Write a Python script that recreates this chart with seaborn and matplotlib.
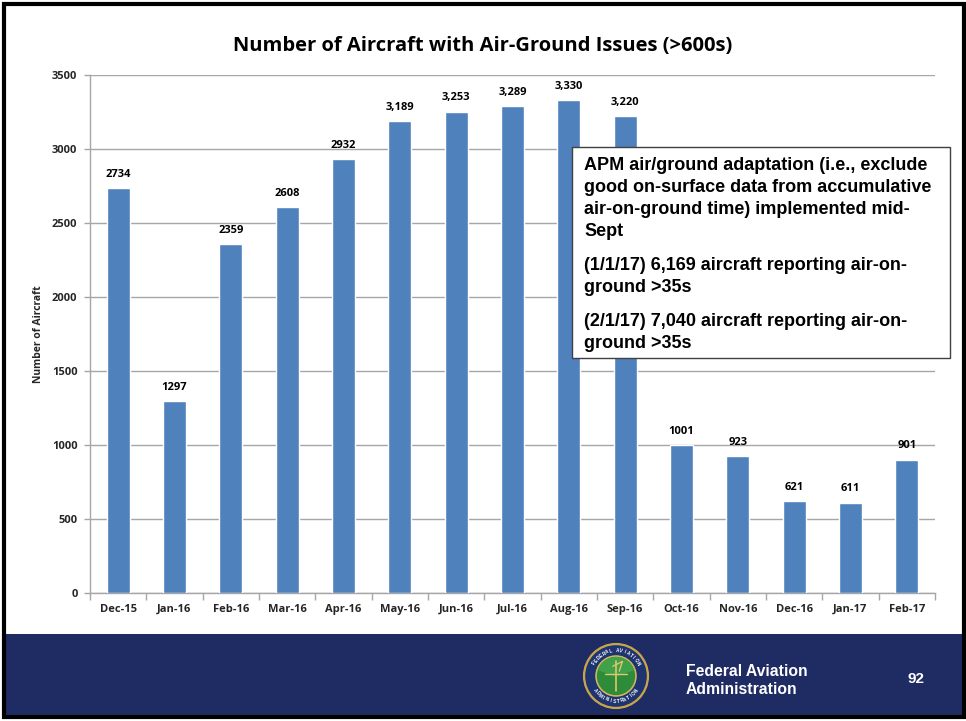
import numpy as np
import pandas as pd
import matplotlib
matplotlib.use("Agg")
import matplotlib.pyplot as plt
from matplotlib.patches import Rectangle, Circle, Wedge
import seaborn as sns

months = ["Dec-15", "Jan-16", "Feb-16", "Mar-16", "Apr-16", "May-16", "Jun-16",
          "Jul-16", "Aug-16", "Sep-16", "Oct-16", "Nov-16", "Dec-16", "Jan-17", "Feb-17"]
aircraft = [2734, 1297, 2359, 2608, 2932, 3189, 3253, 3289, 3330, 3220,
            1001, 923, 621, 611, 901]
# labels for May..Sep are written with a thousands separator
use_comma = [False, False, False, False, False, True, True, True, True, True,
             False, False, False, False, False]
y_ticks = [0, 500, 1000, 1500, 2000, 2500, 3000, 3500]

title = "Number of Aircraft with Air-Ground Issues (>600s)"
y_label = "Number of Aircraft"
note_lines = [
    ["APM air/ground adaptation (i.e., exclude",
     "good on-surface data from accumulative",
     "air-on-ground time) implemented mid-",
     "Sept"],
    ["(1/1/17) 6,169 aircraft reporting air-on-",
     "ground >35s"],
    ["(2/1/17) 7,040 aircraft reporting air-on-",
     "ground >35s"],
]
agency_lines = ["Federal Aviation", "Administration"]
page_no = "92"

BAR = "#4F81BD"
NAVY = "#1F2C64"
GRID = "#A6A6A6"
ARIAL = ["Liberation Sans", "DejaVu Sans"]

sns.set_theme(style="white")
plt.rcParams["font.family"] = ["Open Sans", "DejaVu Sans"]

W, H = 966, 721
fig = plt.figure(figsize=(W / 100, H / 100), dpi=100)
fig.patch.set_facecolor("white")


def fx(px):
    return px / W


def fy(py):
    return 1 - py / H


# chart area
ax = fig.add_axes([fx(90), fy(593), fx(935) - fx(90), fy(75) - fy(593)])
df = pd.DataFrame({"month": months, "count": aircraft})
sns.barplot(data=df, x="month", y="count", color=BAR, saturation=1,
            width=0.41, ax=ax, zorder=3)
ax.set_xlim(-0.5, len(months) - 0.5)
ax.set_ylim(0, 3500)
ax.set_yticks(y_ticks)
ax.set_yticklabels([str(t) for t in y_ticks], fontsize=8, fontweight="bold")
ax.set_xticks(range(len(months)))
ax.set_xticklabels(months, fontsize=8, fontweight="bold")
ax.set_xticks(np.arange(-0.5, len(months), 1.0), minor=True)
ax.tick_params(axis="x", which="major", length=0, pad=8)
ax.tick_params(axis="x", which="minor", length=5, width=1, color=GRID,
               direction="out", bottom=True)
ax.tick_params(axis="y", length=4, width=1, color=GRID, direction="out",
               left=True, pad=5)
ax.set_xlabel("")
ax.set_ylabel(y_label, fontsize=7.5, fontweight="bold", labelpad=6)
ax.yaxis.grid(True, color=GRID, linewidth=1)
ax.set_axisbelow(True)
for s in ["top", "right"]:
    ax.spines[s].set_visible(False)
for s in ["left", "bottom"]:
    ax.spines[s].set_color(GRID)
    ax.spines[s].set_linewidth(1)

for i, (v, c) in enumerate(zip(aircraft, use_comma)):
    lab = f"{v:,}" if c else str(v)
    ax.annotate(lab, (i, v), xytext=(0, 6), textcoords="offset points",
                ha="center", va="bottom", fontsize=8, fontweight="bold",
                color="black", zorder=4)

fig.text(0.5, fy(46), title, ha="center", va="center", fontsize=14.5,
         fontweight="bold", color="black")

# annotation box
fig.patches.append(Rectangle((fx(572), fy(358)), fx(950) - fx(572),
                             fy(147) - fy(358), transform=fig.transFigure,
                             facecolor="white", edgecolor="#404040",
                             linewidth=1.0, zorder=10))
y = 165
for p, para in enumerate(note_lines):
    if p > 0:
        y += 12
    for line in para:
        fig.text(fx(584), fy(y), line, ha="left", va="center", fontsize=13,
                 fontweight="bold", family=ARIAL, color="black", zorder=11)
        y += 22

# footer band
fig.patches.append(Rectangle((fx(5), fy(715)), fx(963) - fx(5),
                             fy(634) - fy(715), transform=fig.transFigure,
                             facecolor=NAVY, edgecolor="none", zorder=1))
for k, line in enumerate(agency_lines):
    fig.text(fx(686), fy(672 + 17 * k), line, ha="left", va="center",
             fontsize=11.3, fontweight="bold", color="white", family=ARIAL,
             zorder=5)
fig.text(fx(916), fy(679), page_no, ha="center", va="center", fontsize=11,
         fontweight="bold", color="white", family=ARIAL, zorder=5)

# seal
lax = fig.add_axes([fx(582), fy(710), fx(650) - fx(582), fy(642) - fy(710)])
lax.set_zorder(6)
lax.patch.set_alpha(0)
lax.set_xlim(-1.05, 1.05)
lax.set_ylim(-1.05, 1.05)
lax.set_aspect("equal")
lax.axis("off")
lax.add_patch(Circle((0, 0), 1.0, color="#C9A64A"))
lax.add_patch(Circle((0, 0), 0.93, color="#1E3470"))
lax.add_patch(Circle((0, 0), 0.62, color="#D7B65A"))
lax.add_patch(Circle((0, 0), 0.57, color="#2E8B3A"))
lax.add_patch(Wedge((0, 0), 0.57, 20, 160, width=0.57, color="#3FA24A"))
lax.plot([0, 0], [-0.45, 0.45], color="#E2C46A", lw=1.2)
lax.plot([-0.35, 0.35], [0.05, 0.05], color="#E2C46A", lw=1.0)
lax.plot([-0.1, 0.2, 0.1], [0.3, 0.45, 0.15], color="#E2C46A", lw=1.0)


def ring_text(txt, a0, a1, r, flip=False):
    angs = np.linspace(a0, a1, len(txt))
    for ch, a in zip(txt, angs):
        rad = np.deg2rad(a)
        rot = a - 90 if not flip else a + 90
        lax.text(r * np.cos(rad), r * np.sin(rad), ch, ha="center",
                 va="center", rotation=rot, fontsize=3.3, color="white",
                 fontweight="bold", family=ARIAL)


ring_text("FEDERAL AVIATION", 150, 30, 0.78)
ring_text("ADMINISTRATION", 215, 325, 0.78, flip=True)

# slide frame
fig.patches.append(Rectangle((fx(4), fy(717)), fx(964) - fx(4),
                             fy(4) - fy(717), transform=fig.transFigure,
                             facecolor="none", edgecolor="black",
                             linewidth=3, zorder=20))

fig.savefig("out.png", dpi=100)
